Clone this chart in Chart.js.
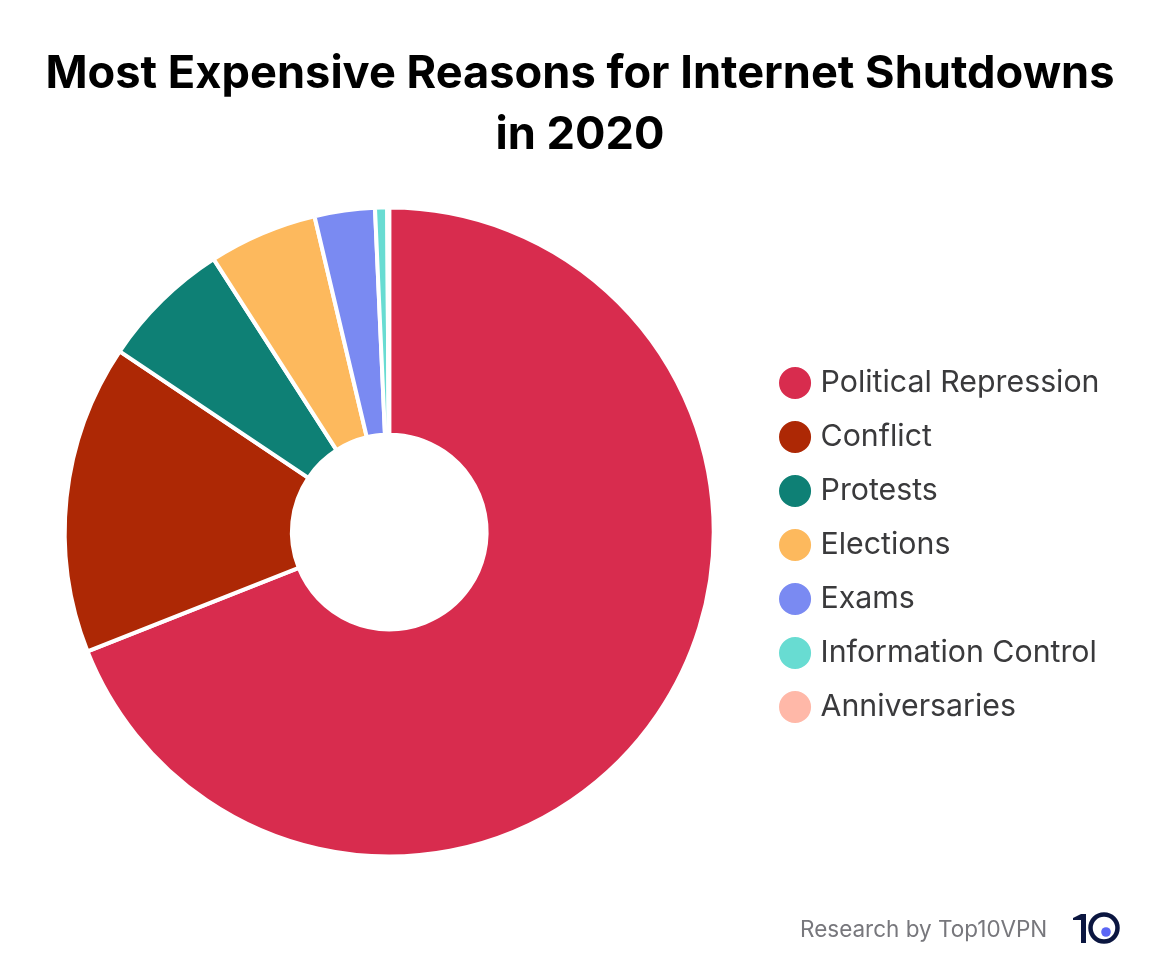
<!DOCTYPE html>
<html><head><meta charset="utf-8">
<style>
html,body{margin:0;padding:0;background:#fff;}
#wrap{position:relative;width:1160px;height:976px;overflow:hidden;}
#credit{position:absolute;left:800px;top:915px;font:22.5px Inter,sans-serif;color:#77777c;white-space:nowrap;}
#logo{position:absolute;left:1072px;top:911px;}
</style>
<script src="https://cdn.jsdelivr.net/npm/chart.js@4"></script>
</head><body>
<div id="wrap">
<canvas id="c" width="1160" height="976" style="width:1160px;height:976px;display:block"></canvas>
<div id="credit">Research by Top10VPN</div>
<svg id="logo" width="50" height="34" viewBox="0 0 50 34"><path d="M1 7 L9 3 H14 V32 H9 V9 H1 Z" fill="#0b1640"/><circle cx="32" cy="17" r="13.5" fill="none" stroke="#0b1640" stroke-width="4.5"/><circle cx="34" cy="21" r="4.8" fill="#5b66f5"/></svg>
</div>
<script>
const titleLines = ["Most Expensive Reasons for Internet Shutdowns", "in 2020"];
const categories = ["Political Repression","Conflict","Protests","Elections","Exams","Information Control","Anniversaries"];
const shares = [69.0,15.4,6.5,5.4,3.0,0.6,0.1];
const colors = ["#D82C4E","#AD2805","#0E8075","#FDB95D","#7A8AF2","#68DCD2","#FFB8A8"];
const legendShift = {id:'legendShift',afterLayout(chart){
  chart.legend.left=761;chart.legend.top+=108;chart.legend.bottom+=108;
  chart.titleBlock.left=0;chart.titleBlock.right=1160;
}};
Chart.defaults.animation=false;
new Chart(document.getElementById('c'),{
 type:'doughnut',
 data:{labels:categories,datasets:[{data:shares,backgroundColor:colors,borderColor:'#fff',borderWidth:4,hoverOffset:0}]},
 plugins:[legendShift],
 options:{
  responsive:false,animation:false,cutout:102,radius:324.5,rotation:0,
  layout:{padding:{left:18,top:0,right:51,bottom:102}},
  plugins:{
   tooltip:{enabled:false},
   title:{display:true,text:titleLines,color:'#000',font:{family:'Inter',size:45.2,weight:'700',lineHeight:1.35},padding:{top:44,bottom:24}},
   legend:{position:'right',align:'center',labels:{usePointStyle:true,boxWidth:20.7,boxHeight:25.5,padding:23.7,color:'#3a3a3c',font:{family:'Inter',size:30.3}}}
  }
 }
});
</script>
</body></html>
